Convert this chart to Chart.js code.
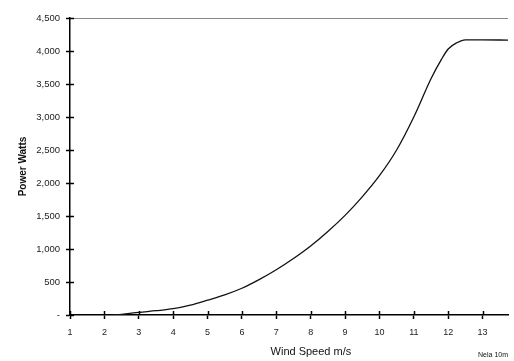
<!DOCTYPE html>
<html lang="en">
<head>
    <meta charset="UTF-8">
    <title>Power Curve</title>
    <script src="https://cdn.jsdelivr.net/npm/chart.js"></script>
    <style>
        body {
            margin: 0;
            background-color: #fff;
        }
        .chart-box {
            width: 514px;
            height: 361px;
        }
    </style>
</head>
<body>
    <div class="chart-box">
        <canvas id="powerChart"></canvas>
    </div>
    <script>
        // Power curve
        const windSpeed = [2.2, 2.5, 3, 3.5, 4, 4.5, 5, 5.5, 6, 6.5, 7, 7.5, 8, 8.5, 9, 9.5, 10, 10.5, 11, 11.5, 11.8, 12, 12.25, 12.5, 13, 13.74];
        const powerWatts = [0, 10, 40, 65, 95, 150, 225, 305, 405, 535, 685, 855, 1045, 1265, 1510, 1790, 2110, 2500, 3000, 3580, 3870, 4030, 4125, 4170, 4170, 4165];
        const xTicks = [1, 2, 3, 4, 5, 6, 7, 8, 9, 10, 11, 12, 13];
        const yTicks = [0, 500, 1000, 1500, 2000, 2500, 3000, 3500, 4000, 4500];

        const font = { family: 'Liberation Sans, Arial, sans-serif', size: 9 };

        // x title and the small note are drawn under the axis
        const textPlugin = {
            id: 'texts',
            afterDraw(chart) {
                const c = chart.ctx;
                const area = chart.chartArea;
                c.save();
                c.fillStyle = '#111';
                c.textBaseline = 'middle';
                c.textAlign = 'center';
                c.font = '11px Liberation Sans, Arial, sans-serif';
                c.fillText('Wind Speed m/s', area.left + (area.right - area.left) * 0.55, 352);
                c.font = '7px Liberation Sans, Arial, sans-serif';
                c.textAlign = 'right';
                c.fillText('Nela 10m', area.right, 355);
                // small tick marks on the inner side of both axes
                c.strokeStyle = '#000';
                c.lineWidth = 1.5;
                const xs = chart.scales.x, ys = chart.scales.y;
                xTicks.forEach(v => {
                    const px = Math.round(xs.getPixelForValue(v)) + 0.5;
                    c.beginPath();
                    c.moveTo(px, area.bottom);
                    c.lineTo(px, area.bottom - 4);
                    c.stroke();
                });
                yTicks.forEach(v => {
                    const py = Math.round(ys.getPixelForValue(v)) + 0.5;
                    c.beginPath();
                    c.moveTo(area.left, py);
                    c.lineTo(area.left + 4, py);
                    c.stroke();
                });
                c.restore();
            }
        };

        const ctx = document.getElementById('powerChart').getContext('2d');
        const powerChart = new Chart(ctx, {
            type: 'line',
            data: {
                datasets: [{
                    data: windSpeed.map((x, i) => ({ x: x, y: powerWatts[i] })),
                    borderColor: '#111',
                    borderWidth: 1.3,
                    pointRadius: 0,
                    cubicInterpolationMode: 'monotone',
                    fill: false
                }]
            },
            options: {
                responsive: true,
                maintainAspectRatio: false,
                animation: false,
                layout: { padding: { top: 18, right: 6, left: 0, bottom: 0 } },
                plugins: {
                    legend: { display: false },
                    tooltip: { enabled: false }
                },
                scales: {
                    x: {
                        type: 'linear',
                        min: 1,
                        max: 13.74,
                        afterBuildTicks(scale) {
                            scale.ticks = xTicks.map(v => ({ value: v }));
                        },
                        afterFit(scale) {
                            scale.height = 46;
                        },
                        border: { color: '#000', width: 1.5 },
                        grid: {
                            drawOnChartArea: false,
                            tickLength: 4,
                            tickColor: '#000',
                            tickWidth: 1.5
                        },
                        ticks: {
                            color: '#222',
                            font: font,
                            padding: 8,
                            maxRotation: 0
                        }
                    },
                    y: {
                        min: 0,
                        max: 4500,
                        afterBuildTicks(scale) {
                            scale.ticks = yTicks.map(v => ({ value: v }));
                        },
                        afterFit(scale) {
                            scale.width = 70;
                        },
                        border: { color: '#000', width: 1.5 },
                        grid: {
                            color: ctx => ctx.tick && ctx.tick.value === 4500 ? '#888' : 'rgba(0,0,0,0)',
                            lineWidth: 1,
                            tickLength: 4,
                            tickColor: '#000',
                            tickWidth: 1.5
                        },
                        title: {
                            display: true,
                            text: 'Power Watts',
                            color: '#111',
                            font: { family: 'Liberation Sans, Arial, sans-serif', size: 10, weight: 'bold' },
                            padding: { top: 17, bottom: 0 }
                        },
                        ticks: {
                            color: '#222',
                            font: { family: 'Liberation Sans, Arial, sans-serif', size: 9.5 },
                            padding: 6,
                            callback: v => v === 0 ? '-' : v.toLocaleString('en-US')
                        }
                    }
                }
            },
            plugins: [textPlugin]
        });
    </script>
</body>
</html>
